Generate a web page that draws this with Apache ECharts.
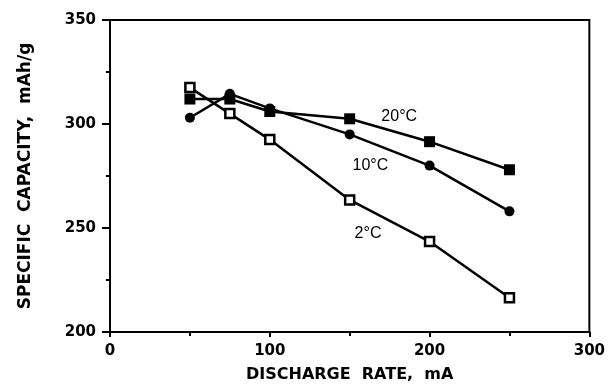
<!DOCTYPE html>
<html>
<head>
<meta charset="utf-8">
<script src="https://cdn.jsdelivr.net/npm/echarts@6/dist/echarts.min.js"></script>
<style>html,body{margin:0;padding:0;background:#fff}#c{width:608px;height:388px}</style>
</head>
<body>
<div id="c"></div>
<script>
var rates = [50, 75, 100, 150, 200, 250];
var cap20 = [312, 312, 306, 302.5, 291.5, 278];
var cap10 = [303, 314.5, 307.5, 295, 280, 258];
var cap2 = [317.5, 305, 292.5, 263.5, 243.5, 216.5];
var seriesNames = ['20°C', '10°C', '2°C'];
var labelCoords = [[181, 303.5], [163, 280], [161.5, 247.5]];
var xTicks = [0, 100, 200, 300];
var yTicks = [200, 250, 300, 350];

function pairs(xs, ys) { return xs.map(function (x, i) { return [x, ys[i]]; }); }

var chart = echarts.init(document.getElementById('c'), null, {renderer: 'canvas'});
var axisFont = {fontFamily: 'DejaVu Sans', fontWeight: 'bold', fontSize: 15, color: '#000'};
var openSq = 'path://M0,0H10V10H0Z';

function mkSeries(name, data, symbol, size, fill, idx) {
  return {
    name: name, type: 'line', data: pairs(rates, data),
    symbol: symbol, symbolSize: size,
    lineStyle: {color: '#000', width: 2.5},
    itemStyle: {color: fill, borderColor: '#000', borderWidth: fill === '#fff' ? 2.5 : 0},
    z: 3 + idx,
    markPoint: {
      symbol: 'circle', symbolSize: 0,
      data: [{coord: labelCoords[idx], value: name}],
      label: {show: true, formatter: name, color: '#000', fontFamily: 'Liberation Sans', fontSize: 16, position: 'inside'}
    }
  };
}

chart.setOption({
  animation: false,
  grid: {left: 110, right: 16, top: 20, bottom: 56, show: true, borderColor: '#000', borderWidth: 2, backgroundColor: 'transparent'},
  xAxis: {
    type: 'value', min: xTicks[0], max: xTicks[xTicks.length - 1], interval: 100,
    name: 'DISCHARGE  RATE,  mA', nameLocation: 'middle', nameGap: 35,
    nameTextStyle: {fontFamily: 'DejaVu Sans', fontWeight: 'bold', fontSize: 16, color: '#000'},
    axisLine: {lineStyle: {color: '#000', width: 2}},
    axisTick: {show: true, length: 5, lineStyle: {color: '#000', width: 2}},
    minorTick: {show: true, splitNumber: 2, length: 4, lineStyle: {color: '#000', width: 2}},
    splitLine: {show: false},
    axisLabel: Object.assign({margin: 12}, axisFont)
  },
  yAxis: {
    type: 'value', min: yTicks[0], max: yTicks[yTicks.length - 1], interval: 50,
    name: 'SPECIFIC  CAPACITY,  mAh/g', nameLocation: 'middle', nameGap: 76,
    nameTextStyle: {fontFamily: 'DejaVu Sans', fontWeight: 'bold', fontSize: 17, color: '#000'},
    axisLine: {lineStyle: {color: '#000', width: 2}},
    axisTick: {show: true, length: 8, lineStyle: {color: '#000', width: 2}},
    minorTick: {show: true, splitNumber: 2, length: 4, lineStyle: {color: '#000', width: 2}},
    splitLine: {show: false},
    axisLabel: Object.assign({margin: 14}, axisFont)
  },
  series: [
    mkSeries(seriesNames[0], cap20, 'rect', 11, '#000', 0),
    mkSeries(seriesNames[1], cap10, 'circle', 10, '#000', 1),
    mkSeries(seriesNames[2], cap2, openSq, 9, '#fff', 2)
  ]
});
</script>
</body>
</html>
